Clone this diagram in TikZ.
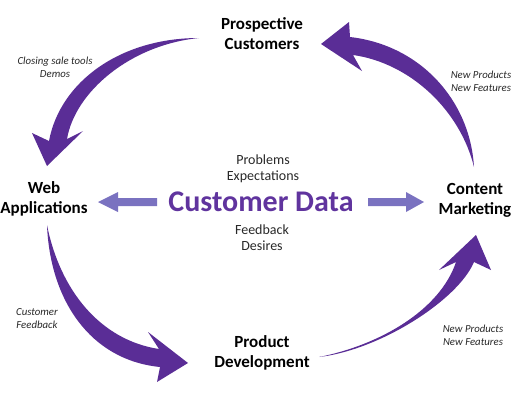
\documentclass[tikz,border=0pt]{standalone}
\usepackage{fontspec}
\setmainfont{Carlito}
\definecolor{darkpurple}{RGB}{90,45,150}
\definecolor{titlepurple}{RGB}{96,52,158}
\definecolor{lightpurple}{RGB}{122,114,192}
\definecolor{labelgray}{RGB}{40,40,40}
\begin{document}
\begin{tikzpicture}[x=1pt,y=-1pt,
  stage/.style={font=\bfseries\fontsize{17}{20}\selectfont, align=center, text=black, inner sep=0pt},
  datatext/.style={font=\fontsize{14}{16}\selectfont, align=center, text=labelgray, inner sep=0pt},
  flowlabel/.style={font=\itshape\fontsize{10.8}{13}\selectfont, align=center, text=labelgray, inner sep=0pt},
  bigarrow/.style={fill=darkpurple, draw=none},
  dataarrow/.style={fill=lightpurple, draw=none}]
\useasboundingbox (0,0) rectangle (512,400);

% stage labels
\node[stage] (pc) at (262,34) {Prospective\\Customers};
\node[stage] (wa) at (44,199) {Web\\Applications};
\node[stage] (cm) at (475,200) {Content\\Marketing};
\node[stage] (pd) at (262,353) {Product\\Development};

% centre
\node[font=\bfseries\fontsize{30}{32}\selectfont, text=titlepurple, inner sep=0pt] (cd) at (261,202) {Customer Data};
\node[datatext] (pe) at (263,169) {Problems\\Expectations};
\node[datatext] (fd) at (262,238) {Feedback\\Desires};

% flow labels
\node[flowlabel] (l1) at (55,67) {Closing sale tools\\Demos};
\node[flowlabel] (l2) at (481,81) {New Products\\New Features};
\node[flowlabel] (l3) at (37,319) {Customer\\Feedback};
\node[flowlabel] (l4) at (473,335) {New Products\\New Features};

% light data arrows
\fill[dataarrow] (157,198) -- (118,198) -- (118,192) -- (98,202) -- (118,212) -- (118,206) -- (157,206) -- cycle;
\fill[dataarrow] (368,198) -- (406,198) -- (406,192) -- (424,202) -- (406,212) -- (406,206) -- (368,206) -- cycle;

% big curved arrows
% top-left: Prospective Customers -> Web Applications
\fill[bigarrow] (199,38) .. controls (120,38) and (60,82) .. (49,141)
  -- (32,133) -- (47,166) -- (83,131) -- (67,139)
  .. controls (75,92) and (130,45) .. (199,38) -- cycle;
% top-right: Content Marketing -> Prospective Customers
\fill[bigarrow] (474,167) .. controls (470,100) and (420,45) .. (350,37)
  -- (349,22) -- (321,44) -- (362,71) -- (353,55)
  .. controls (410,63) and (460,110) .. (474,167) -- cycle;
% bottom-left: Web Applications -> Product Development
\fill[bigarrow] (47,225) .. controls (50,300) and (90,360) .. (160,367)
  -- (157,382) -- (188,363) -- (148,332) -- (159,349)
  .. controls (100,340) and (60,290) .. (47,225) -- cycle;
% bottom-right: Product Development -> Content Marketing
\fill[bigarrow] (319,357) .. controls (380,350) and (458,300) .. (474,262)
  -- (491,270) -- (476,235) -- (439,270) -- (456,262)
  .. controls (440,310) and (380,345) .. (319,357) -- cycle;
\end{tikzpicture}
\end{document}
